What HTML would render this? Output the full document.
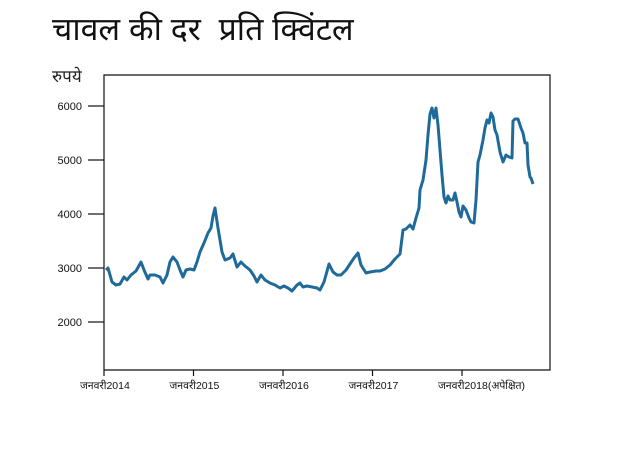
<!DOCTYPE html>
<html><head><meta charset="utf-8"><style>
body{margin:0;background:#fff;width:644px;height:460px;overflow:hidden}
text{font-family:"Liberation Sans","Noto Sans CJK SC",sans-serif}
</style></head><body>
<svg width="644" height="460">
<text x="52" y="40" font-size="32" fill="#111">चावल की दर&#160; प्रति क्विंटल</text>
<text x="52" y="82" font-size="17" fill="#222">रुपये</text>
<g id="frame"></g>
<g id="yticks"></g>
<g id="xticks"></g>
<path id="line" fill="none" stroke="#1f6a99" stroke-width="3" stroke-linejoin="round"/>
</svg>
<script>
const yTicks=[2000,3000,4000,5000,6000];
const xTickYears=[0,1,2,3,4];
const xTickLabels=["जनवरी2014","जनवरी2015","जनवरी2016","जनवरी2017","जनवरी2018(अपेक्षित)"];
const times=[0.022,0.045,0.089,0.134,0.179,0.223,0.257,0.302,0.358,0.413,0.447,0.492,0.514,0.570,0.626,0.659,0.704,0.737,0.771,0.816,0.849,0.883,0.916,0.961,1.006,1.039,1.073,1.117,1.162,1.196,1.218,1.240,1.274,1.318,1.352,1.408,1.441,1.486,1.531,1.575,1.631,1.676,1.709,1.754,1.799,1.855,1.911,1.966,2.011,2.056,2.101,2.156,2.190,2.223,2.268,2.324,2.380,2.413,2.458,2.514,2.559,2.603,2.648,2.704,2.749,2.793,2.838,2.872,2.927,2.972,3.039,3.084,3.140,3.196,3.251,3.307,3.341,3.374,3.419,3.453,3.486,3.520,3.531,3.564,3.598,3.620,3.642,3.665,3.687,3.709,3.732,3.754,3.777,3.799,3.821,3.844,3.866,3.899,3.922,3.944,3.966,3.989,4.011,4.045,4.078,4.101,4.134,4.156,4.179,4.201,4.235,4.257,4.279,4.302,4.324,4.346,4.369,4.391,4.425,4.458,4.492,4.525,4.559,4.570,4.592,4.626,4.659,4.682,4.704,4.726,4.737,4.760,4.771,4.793];
const prices=[2963,3000,2741,2685,2704,2833,2778,2870,2944,3111,2963,2796,2870,2870,2833,2722,2870,3111,3204,3111,2963,2833,2963,2981,2963,3111,3296,3463,3648,3741,3963,4111,3741,3296,3148,3185,3259,3019,3111,3037,2963,2852,2741,2870,2778,2722,2685,2630,2667,2630,2574,2685,2722,2648,2667,2648,2630,2593,2741,3074,2926,2870,2870,2963,3074,3185,3278,3056,2907,2926,2944,2944,2981,3056,3167,3259,3704,3722,3796,3722,3926,4111,4444,4630,5000,5463,5852,5963,5778,5963,5648,5185,4722,4315,4204,4333,4259,4259,4389,4222,4037,3944,4148,4074,3926,3852,3833,4259,4963,5093,5370,5593,5741,5685,5870,5796,5556,5463,5148,4963,5093,5056,5037,5722,5759,5759,5593,5500,5315,5315,4907,4685,4667,4556];
const NS="http://www.w3.org/2000/svg";
const L=104,R=550,T=75,B=370;
const xs=t=>L+t*89.5;
const ys=v=>268-(v-3000)*0.054;
function mk(tag,a,parent){const e=document.createElementNS(NS,tag);for(const k in a)e.setAttribute(k,a[k]);document.getElementById(parent).appendChild(e);return e;}
let f=mk('path',{d:`M${L} ${T}H${R}V${B}H${L}Z`,fill:'none',stroke:'#111','stroke-width':1.2},'frame');


yTicks.forEach(v=>{
 const y=ys(v);
 let l=mk('line',{x1:88,x2:104,y1:y,y2:y,stroke:'#111','stroke-width':1.2},'yticks');
 
 
 let t=mk('text',{x:82,y:y+4,'font-size':11,'text-anchor':'end',fill:'#111'},'yticks');
 t.textContent=v;
 
 
});
xTickYears.forEach((yr,i)=>{
 const x=xs(yr);
 let l=mk('line',{x1:x,x2:x,y1:B,y2:B+6,stroke:'#111','stroke-width':1.2},'xticks');
 
 
 let t=mk('text',{x:x-24,y:389,'font-size':10.5,fill:'#111'},'xticks');
 t.textContent=xTickLabels[i];
 
 
});
document.getElementById('line').setAttribute('d',times.map((t,i)=>(i?'L':'M')+xs(t).toFixed(1)+' '+ys(prices[i]).toFixed(1)).join(''));
</script>
</body></html>
